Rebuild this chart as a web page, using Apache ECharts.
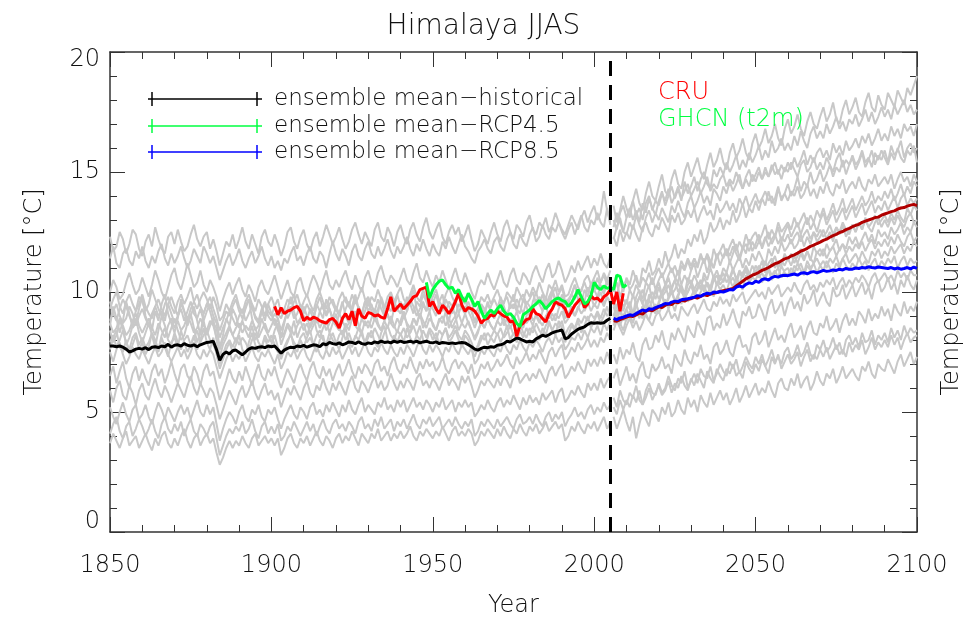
<!DOCTYPE html>
<html><head><meta charset="utf-8">
<script src="https://cdn.jsdelivr.net/npm/echarts@6/dist/echarts.min.js"></script>
<style>html,body{margin:0;padding:0;background:#fff}#c{width:967px;height:620px}</style>
</head><body><div id="c"></div><script>
// ---------- data ----------
const histStart = 1850, projStart = 2006, cruStart = 1901, ghcnStart = 1948;
const xTicks = [1850, 1900, 1950, 2000, 2050, 2100];
const yTicks = [0, 5, 10, 15, 20];
const splitYear = 2005;

const meanHist = [
7.75,7.75,7.72,7.75,7.7,7.62,7.5,7.55,7.62,7.65,
7.62,7.68,7.6,7.7,7.72,7.68,7.75,7.72,7.82,7.7,
7.78,7.8,7.75,7.85,7.78,7.75,7.8,7.72,7.8,7.85,
7.9,7.92,7.95,7.6,7.15,7.4,7.5,7.42,7.55,7.58,
7.48,7.38,7.5,7.62,7.68,7.65,7.7,7.72,7.68,7.75,
7.72,7.75,7.6,7.45,7.58,7.65,7.7,7.68,7.75,7.72,
7.78,7.7,7.75,7.8,7.78,7.72,7.85,7.8,7.9,7.85,
7.82,7.88,7.8,7.85,7.92,7.9,7.85,7.93,7.85,7.82,
7.88,7.85,7.92,7.88,7.95,7.9,7.92,7.88,7.95,7.9,
7.95,7.9,7.92,7.95,7.9,7.95,7.88,7.92,7.95,7.9,
7.88,7.92,7.85,7.9,7.88,7.85,7.88,7.85,7.88,7.9,
7.88,7.8,7.72,7.62,7.58,7.65,7.7,7.68,7.72,7.7,
7.78,7.8,7.85,7.95,7.92,8.0,8.08,8.05,7.98,7.92,
7.95,7.92,8.05,8.12,8.2,8.15,8.22,8.3,8.35,8.38,
8.42,8.05,8.1,8.25,8.35,8.45,8.5,8.55,8.65,8.72,
8.7,8.72,8.7,8.72,8.82,8.9];

const cru = [
9.4,9.05,9.35,9.1,9.2,9.25,9.35,9.4,9.2,
8.8,8.95,8.85,8.95,8.9,8.8,8.75,8.7,8.85,8.9,
8.75,8.5,8.9,9.1,8.85,9.2,8.6,9.3,9.0,8.9,
9.15,9.1,9.0,9.05,8.95,8.9,9.3,9.8,9.2,9.35,
9.5,9.3,9.45,9.6,9.8,9.85,10.1,10.15,10.2,9.4,
9.6,9.3,9.1,9.45,9.3,9.1,9.3,9.6,9.95,9.45,
9.2,9.35,9.3,9.2,9.0,8.7,8.85,8.9,9.05,9.0,
9.2,9.1,9.0,8.95,8.75,8.8,8.15,8.6,8.7,8.85,
8.9,9.3,9.1,9.05,8.9,8.75,9.1,9.3,9.6,9.5,
9.45,9.3,8.95,9.2,9.45,9.6,9.75,9.35,9.5,9.85,
9.7,9.75,9.6,9.8,9.9,10.1,9.5,10.0,9.2,9.95];

const ghcn = [
10.4,9.75,
10.1,10.3,10.45,10.5,10.3,10.15,10.2,9.95,10.1,9.8,
9.6,9.95,9.7,9.4,9.6,9.2,8.9,9.1,9.25,9.1,
9.3,9.45,9.2,9.05,9.1,8.95,8.7,8.55,9.05,9.15,
9.25,9.4,9.5,9.65,9.5,9.3,9.45,9.6,9.7,9.75,
9.65,9.6,9.4,9.55,9.8,10.1,9.8,9.5,9.6,9.85,
10.4,10.2,10.1,10.25,10.15,10.2,10.1,10.7,10.65,10.2,
10.3];

const meanProjBlue = [
8.9,8.85,8.92,8.95,
9.0,9.05,9.02,9.1,9.18,9.25,9.2,9.3,9.28,9.35,
9.4,9.45,9.52,9.5,9.58,9.62,9.6,9.68,9.7,9.72,
9.75,9.78,9.85,9.82,9.9,9.95,9.92,10.0,9.98,10.02,
10.0,10.05,10.1,10.08,10.2,10.25,10.2,10.32,10.38,10.35,
10.45,10.4,10.52,10.55,10.5,10.6,10.65,10.62,10.68,10.7,
10.68,10.72,10.75,10.7,10.78,10.8,10.76,10.82,10.85,10.8,
10.85,10.9,10.86,10.88,10.92,10.9,10.95,10.92,10.98,10.95,
10.95,11.0,10.98,11.02,11.0,11.05,11.02,11.0,11.04,11.02,
11.0,10.98,11.02,10.96,11.0,10.95,10.98,11.02,10.96,11.04,
10.98];

const meanProjDarkRed = [
8.8,8.78,8.85,8.9,
8.95,9.0,8.98,9.05,9.12,9.08,9.2,9.25,9.22,9.3,
9.38,9.35,9.45,9.5,9.48,9.58,9.55,9.65,9.62,9.7,
9.72,9.78,9.75,9.82,9.88,9.85,9.92,9.95,9.98,10.02,
10.05,10.08,10.12,10.15,10.25,10.35,10.45,10.55,10.62,10.7,
10.75,10.82,10.9,10.95,11.02,11.1,11.18,11.22,11.3,11.38,
11.42,11.5,11.55,11.62,11.7,11.75,11.82,11.9,11.95,12.02,
12.08,12.15,12.2,12.28,12.35,12.4,12.48,12.52,12.6,12.65,
12.72,12.78,12.82,12.9,12.95,13.0,13.05,13.1,13.12,13.2,
13.25,13.3,13.35,13.38,13.45,13.5,13.52,13.58,13.62,13.65,
13.6];

// historical ensemble members (1850-2005)
const hist01 = [
12.3,11.7,11.9,12.5,12.2,11.6,12.0,12.6,12.4,11.8,
11.5,12.1,12.4,11.9,12.7,12.2,11.8,11.6,12.3,12.5,
12.0,12.6,12.1,11.7,11.9,12.4,12.8,12.2,11.9,12.3,
12.5,11.8,12.2,11.7,11.1,11.6,12.1,11.9,12.4,11.8,
12.2,12.7,12.1,11.8,12.4,12.0,11.6,12.3,12.6,12.1,
11.9,12.4,12.0,11.5,11.9,12.5,12.7,12.1,11.8,12.3,
12.6,12.0,11.7,12.2,12.5,11.9,12.3,12.8,12.4,12.0,
12.3,12.7,12.2,11.8,12.1,12.6,12.9,12.4,12.0,12.5,
12.2,11.9,12.6,12.9,12.3,12.1,12.7,12.4,11.9,12.5,
12.8,12.3,12.0,12.6,12.9,12.4,12.1,12.7,13.1,12.5,
12.2,12.6,12.9,12.3,12.0,12.5,12.8,12.4,12.7,12.1,
12.4,12.8,12.2,11.7,12.0,12.6,12.3,12.0,12.5,12.9,
12.4,12.1,12.7,13.0,12.5,12.2,12.8,12.6,12.3,12.9,
13.2,12.6,12.4,12.9,12.7,13.1,12.5,12.8,13.3,12.9,
12.6,12.4,12.8,13.2,12.9,12.6,13.1,13.4,12.9,13.3,
13.6,13.0,13.3,14.2,13.4,12.9];
const hist02 = [
11.4,11.9,11.2,11.0,11.6,11.8,11.3,11.1,11.7,11.4,
11.9,11.3,11.0,11.5,11.2,11.7,12.0,11.4,11.1,11.6,
11.2,11.5,11.9,11.4,11.0,11.3,11.8,11.5,11.2,11.9,
11.6,11.2,11.5,11.0,10.5,10.9,11.3,11.6,11.1,11.4,
11.8,11.3,11.0,11.4,11.7,11.2,11.5,11.9,11.4,11.1,
11.5,11.0,11.3,10.9,11.4,11.2,11.6,11.9,11.3,11.5,
11.1,11.6,11.9,11.4,11.2,11.7,11.5,11.0,11.6,12.1,
11.6,11.3,11.8,11.5,11.1,11.7,12.0,11.5,11.3,11.8,
12.1,11.6,11.4,11.9,11.5,11.8,12.2,11.7,11.4,11.9,
11.6,11.9,12.3,11.8,11.5,12.0,11.7,12.2,11.8,11.5,
12.0,11.7,11.5,12.1,11.8,12.3,11.9,11.6,12.0,12.4,
11.9,11.7,11.4,11.2,11.7,11.9,12.2,11.8,11.6,12.1,
12.3,11.9,11.7,12.2,12.5,12.0,11.8,12.4,12.1,11.9,
12.4,12.7,12.1,12.3,12.8,12.4,12.2,12.7,12.5,12.9,
12.5,12.2,12.6,12.9,12.4,12.8,13.2,12.7,12.5,13.0,
12.8,13.3,12.9,12.7,13.5,12.8];
const hist03 = [
10.0,10.5,10.2,9.7,9.9,10.4,10.8,10.3,9.9,10.1,
10.6,10.2,9.8,10.3,10.9,10.5,10.0,9.7,10.2,10.7,
11.0,10.4,10.1,10.6,11.2,10.7,10.2,10.4,10.9,10.3,
10.0,10.5,10.2,9.8,9.2,9.7,10.1,10.4,9.9,10.3,
10.6,10.1,9.8,10.3,10.0,9.6,10.2,10.5,10.1,9.9,
10.3,10.7,10.2,9.7,10.1,10.5,10.0,9.8,10.4,10.6,
10.1,9.8,10.3,10.7,10.4,10.0,10.5,10.9,10.3,10.1,
10.5,10.2,10.6,10.9,10.4,10.1,10.7,10.3,10.0,10.6,
10.9,10.4,10.2,10.8,11.1,10.6,10.3,10.7,10.5,10.2,
10.6,11.0,10.5,10.3,10.8,11.2,10.6,10.4,10.9,10.5,
10.2,10.7,10.4,10.9,10.5,10.1,10.6,11.0,10.5,10.3,
10.8,10.4,10.0,9.7,10.2,10.5,10.3,10.8,10.4,10.1,
10.5,10.9,10.4,10.2,10.7,11.0,10.5,10.3,10.8,10.6,
10.3,10.8,11.1,10.7,10.4,10.9,11.2,10.6,10.8,11.3,
10.9,10.4,10.7,11.1,10.8,11.3,10.9,11.2,11.5,11.0,
11.4,11.1,11.6,11.2,11.0,11.5];
const hist04 = [
9.3,9.7,10.0,9.4,9.1,9.6,9.9,9.5,9.2,9.8,
9.6,9.2,9.5,10.1,9.7,9.3,9.0,9.5,9.8,9.4,
9.1,9.6,9.9,9.5,9.8,10.2,9.6,9.3,9.7,10.0,
9.7,9.3,9.8,9.4,8.8,9.0,9.5,9.2,9.6,9.9,
9.4,9.1,9.6,9.9,9.5,9.2,9.7,9.4,9.0,9.5,
9.8,9.4,9.1,8.9,9.3,9.7,9.5,9.9,9.4,9.2,
9.6,9.9,9.5,9.2,9.7,10.0,9.6,9.3,9.8,9.5,
9.2,9.7,10.0,9.6,9.4,9.9,9.5,9.8,10.2,9.7,
9.4,9.8,9.6,10.1,9.7,9.3,9.8,10.0,9.6,9.9,
10.2,9.7,9.5,9.9,10.3,9.8,9.6,10.1,9.7,9.4,
9.8,10.1,9.6,9.4,9.9,10.2,9.8,9.5,10.0,9.7,
9.5,9.9,9.6,9.1,9.3,9.8,9.6,9.9,9.5,9.8,
10.1,9.7,9.5,10.0,9.8,9.6,10.2,9.9,9.6,10.1,
9.8,10.2,9.9,10.4,10.0,9.7,10.3,10.1,10.5,10.0,
10.3,9.8,9.9,10.3,10.6,10.2,10.0,10.5,10.7,10.3,
10.6,10.9,10.4,10.8,10.5,10.9];
const hist05 = [
8.8,9.2,9.5,9.0,8.7,8.9,9.4,9.1,8.6,9.0,
9.3,8.9,8.6,9.1,9.4,9.0,9.2,8.8,9.5,9.1,
8.7,9.0,9.3,8.8,9.2,9.6,9.1,8.9,9.3,8.8,
9.2,9.5,9.0,8.7,8.1,8.5,8.8,9.2,8.9,8.6,
9.0,9.3,8.8,9.1,9.4,8.9,8.7,9.2,9.5,9.0,
8.8,9.1,8.9,8.4,8.8,9.2,9.4,8.9,9.1,9.5,
9.0,8.8,9.3,9.1,8.7,9.2,9.5,9.0,9.3,8.9,
9.4,9.1,8.8,9.3,9.6,9.2,9.0,9.4,9.1,9.6,
9.2,9.5,9.0,9.3,9.7,9.1,9.4,9.2,9.6,9.3,
9.1,9.5,9.2,9.7,9.4,9.0,9.3,9.6,9.2,9.5,
9.7,9.3,9.1,9.5,9.2,9.6,9.4,9.0,9.5,9.3,
9.1,9.4,9.2,8.7,9.0,9.3,9.1,9.5,9.2,8.9,
9.3,9.6,9.2,9.0,9.5,9.3,9.7,9.4,9.1,9.6,
9.4,9.2,9.7,9.5,9.9,9.4,9.6,10.0,9.6,9.4,
9.9,9.5,9.6,9.9,9.7,10.1,9.8,9.6,10.2,9.9,
10.1,9.8,10.3,10.0,10.4,10.2];
const hist06 = [
8.7,8.3,8.5,8.9,8.6,8.2,8.4,8.8,9.1,8.6,
8.3,8.6,8.9,8.5,8.2,8.7,8.4,8.1,8.6,8.9,
8.5,8.8,8.4,8.6,9.0,8.7,8.3,8.5,8.9,8.6,
8.4,8.8,8.6,8.1,7.6,8.0,8.3,8.6,8.2,8.5,
8.7,8.3,8.6,8.4,8.8,8.5,8.1,8.4,8.7,8.3,
8.6,8.9,8.4,8.1,8.3,8.7,8.5,8.2,8.6,8.8,
8.4,8.7,8.3,8.6,8.9,8.5,8.8,8.4,8.7,9.0,
8.6,8.4,8.8,8.5,8.7,9.1,8.6,8.4,8.9,8.6,
8.8,8.5,8.9,8.6,8.4,8.8,9.1,8.7,8.5,8.9,
8.6,9.0,8.7,8.5,8.9,8.6,9.1,8.8,8.5,8.9,
8.7,8.4,8.8,9.0,8.6,8.9,8.5,8.8,9.1,8.7,
8.5,8.8,8.4,8.1,8.4,8.7,8.5,8.9,8.6,8.4,
8.8,8.6,8.9,8.5,8.8,9.0,8.7,8.5,8.9,8.7,
8.9,8.6,9.1,8.8,8.6,9.0,9.2,8.8,9.1,8.9,
9.2,8.7,8.9,9.2,9.0,9.4,9.1,9.3,9.6,9.2,
9.5,9.3,9.7,9.4,9.8,9.5];
const hist07 = [
7.9,8.2,7.7,8.0,8.4,7.9,7.6,8.1,8.3,7.8,
8.1,7.7,7.9,8.3,8.0,7.6,8.2,8.5,8.0,7.8,
8.3,7.9,7.6,8.0,8.2,7.8,8.1,8.4,7.9,8.2,
8.4,8.0,7.8,7.5,7.0,7.4,7.8,8.0,7.7,8.1,
7.8,8.1,7.9,7.6,8.0,8.3,7.9,7.7,8.2,7.9,
8.2,7.8,7.5,7.3,7.7,8.0,8.2,7.9,7.7,8.1,
8.3,7.9,8.1,7.8,8.2,8.4,8.0,7.8,8.3,8.0,
7.8,8.2,8.4,8.0,8.3,7.9,8.1,8.5,8.2,7.9,
8.3,8.1,8.5,8.2,7.9,8.3,8.6,8.2,8.0,8.4,
8.2,8.5,8.1,8.3,8.6,8.2,8.0,8.4,8.1,8.5,
8.3,8.0,8.4,8.2,8.5,8.1,8.3,8.6,8.2,8.0,
8.4,8.2,7.9,7.5,7.8,8.2,8.0,8.3,8.1,8.4,
8.2,8.5,8.1,8.3,8.6,8.2,8.4,8.7,8.3,8.1,
8.5,8.3,8.7,8.4,8.2,8.6,8.8,8.4,8.7,8.5,
8.8,8.2,8.5,8.7,8.5,8.9,8.7,9.0,8.8,9.1,
8.9,9.2,8.9,9.3,9.0,9.2];
const hist08 = [
7.5,7.1,7.6,7.9,7.4,7.0,7.3,7.7,7.4,7.2,
7.6,7.3,7.0,7.4,7.7,7.3,7.5,7.9,7.4,7.1,
7.4,7.7,7.3,7.6,7.2,7.5,7.9,7.4,7.2,7.6,
7.3,7.6,7.4,6.9,6.4,6.8,7.2,7.5,7.1,7.4,
7.2,7.5,7.1,7.4,7.7,7.3,7.1,7.5,7.3,7.6,
7.3,7.0,7.4,6.8,7.1,7.5,7.3,7.6,7.2,7.5,
7.7,7.3,7.1,7.5,7.8,7.4,7.2,7.6,7.3,7.7,
7.4,7.6,7.2,7.5,7.8,7.4,7.7,7.3,7.6,7.9,
7.5,7.3,7.7,7.5,7.9,7.6,7.4,7.8,7.5,7.3,
7.7,7.4,7.8,7.6,7.3,7.7,8.0,7.6,7.4,7.8,
7.5,7.8,7.6,7.3,7.7,7.5,7.9,7.6,7.4,7.8,
7.6,7.4,7.7,7.0,7.2,7.6,7.4,7.7,7.5,7.3,
7.7,7.5,7.9,7.6,7.4,7.8,7.6,8.0,7.7,7.5,
7.9,7.7,8.0,7.8,7.5,7.9,8.1,7.8,8.2,7.9,
8.1,7.6,7.8,8.1,8.0,8.3,8.0,8.4,8.1,8.5,
8.3,8.6,8.2,8.7,8.4,8.8];
const hist09 = [
6.5,6.9,6.2,6.7,7.1,6.4,6.0,6.6,6.9,6.3,
6.8,6.4,6.1,6.7,7.0,6.5,6.8,6.2,6.6,7.1,
6.6,6.2,6.8,7.0,6.5,6.3,6.9,6.6,6.1,6.7,
7.0,6.5,6.7,6.1,5.5,5.9,6.3,6.8,6.4,6.2,
6.7,6.3,6.9,6.5,6.1,6.6,7.0,6.5,6.3,6.8,
6.5,6.9,6.4,6.0,6.4,6.8,6.5,6.2,6.7,7.0,
6.6,6.3,6.8,7.1,6.6,6.4,6.9,6.5,6.8,6.3,
6.7,7.0,6.5,6.8,7.2,6.7,6.4,6.9,6.6,7.0,
6.8,6.5,7.0,7.2,6.7,6.9,6.5,7.0,7.3,6.8,
6.6,7.0,6.8,7.3,6.9,6.6,7.1,6.8,7.2,6.9,
7.1,6.7,6.9,7.3,6.8,6.6,7.0,7.2,6.8,7.1,
6.9,6.6,7.0,6.4,6.6,7.0,6.8,7.1,6.7,6.9,
7.2,6.9,7.1,7.4,7.0,6.8,7.3,7.0,7.2,7.5,
7.1,7.4,7.2,7.6,7.3,7.0,7.5,7.7,7.3,7.6,
7.8,7.2,7.4,7.7,7.5,7.9,7.6,7.8,8.1,7.7,
8.0,7.7,8.1,7.9,8.3,8.0];
const hist10 = [
5.9,5.4,6.0,6.3,5.7,5.5,6.1,5.8,5.3,5.9,
6.2,5.7,5.5,6.0,6.4,5.9,5.6,6.1,5.8,5.4,
5.8,6.2,5.9,5.6,6.1,6.5,6.0,5.7,6.2,5.9,
5.6,6.0,5.8,5.3,4.7,5.1,5.5,5.9,5.6,5.3,
5.8,6.1,5.6,5.9,6.3,5.8,5.5,5.9,6.2,5.7,
5.9,5.5,5.8,5.2,5.6,6.0,5.7,6.1,5.8,5.5,
6.0,6.3,5.8,5.6,6.1,5.9,6.4,6.0,5.7,6.2,
5.9,6.3,6.0,5.7,6.2,6.5,6.0,5.8,6.3,6.1,
5.8,6.2,6.5,6.0,6.3,5.9,6.1,6.6,6.2,5.9,
6.3,6.0,6.4,6.2,5.9,6.4,6.6,6.1,6.3,6.0,
6.4,6.2,5.9,6.3,6.6,6.1,6.4,6.2,5.9,6.5,
6.2,6.5,6.1,5.6,5.9,6.3,6.1,6.4,6.2,6.0,
6.4,6.1,6.5,6.3,6.0,6.5,6.7,6.2,6.4,6.6,
6.3,6.6,6.4,6.8,6.5,6.2,6.7,6.9,6.5,6.8,
7.0,6.4,6.6,6.9,6.7,7.1,6.8,6.6,7.2,6.9,
7.2,6.9,7.3,7.0,7.5,7.1];
const hist11 = [
5.2,4.8,4.5,5.0,5.4,4.9,4.6,5.1,5.3,4.7,
4.9,5.3,4.8,4.5,5.0,5.4,5.1,4.7,5.2,4.9,
4.6,5.0,5.3,4.9,5.2,4.7,5.1,5.5,5.0,4.8,
5.3,4.9,5.2,4.5,3.8,4.3,4.7,5.0,4.8,4.5,
5.0,5.3,4.8,4.6,5.1,4.9,5.3,4.8,4.6,5.1,
4.9,5.2,4.7,4.3,4.7,5.0,5.3,4.9,4.7,5.2,
5.0,4.7,5.2,5.4,4.9,5.1,4.8,5.3,5.0,5.4,
5.1,4.8,5.3,5.0,5.5,5.1,4.9,5.3,5.6,5.0,
5.3,5.1,4.9,5.4,5.2,5.6,5.1,5.3,5.0,5.5,
5.2,5.5,5.0,5.3,5.6,5.2,5.4,5.1,5.5,5.3,
5.0,5.4,5.2,5.6,5.1,5.3,5.5,5.0,5.4,5.2,
5.5,5.2,5.4,4.8,5.0,5.3,5.1,5.5,5.2,5.0,
5.4,5.6,5.2,5.5,5.3,5.7,5.4,5.1,5.6,5.3,
5.7,5.4,5.6,5.3,5.8,5.5,5.7,5.9,5.4,5.8,
6.0,5.4,5.6,5.9,5.7,6.1,5.8,5.6,6.2,5.9,
6.2,5.9,6.4,6.0,6.3,6.5];
const hist12 = [
4.1,4.5,4.8,4.2,3.9,4.4,4.6,4.0,4.3,4.7,
4.4,4.0,4.3,4.7,4.2,3.9,4.5,4.8,4.3,4.1,
4.5,4.2,4.6,4.0,4.4,4.7,4.2,4.0,4.5,4.3,
4.0,4.4,4.6,3.9,3.2,3.6,4.0,4.3,4.1,4.4,
4.2,4.6,4.1,4.3,4.7,4.2,3.9,4.4,4.6,4.1,
4.4,4.1,4.5,3.8,4.0,4.4,4.2,4.6,4.3,4.0,
4.3,4.6,4.2,4.5,4.0,4.4,4.7,4.3,4.1,4.5,
4.7,4.3,4.5,4.2,4.6,4.4,4.1,4.6,4.8,4.3,
4.5,4.2,4.7,4.4,4.8,4.3,4.5,4.7,4.2,4.6,
4.4,4.7,4.3,4.6,4.9,4.5,4.3,4.7,4.5,4.8,
4.4,4.6,4.8,4.3,4.5,4.7,4.4,4.8,4.5,4.3,
4.6,4.4,4.7,4.0,4.2,4.6,4.4,4.7,4.5,4.3,
4.7,4.4,4.6,4.8,4.5,4.3,4.7,4.9,4.5,4.6,
4.8,4.5,4.9,4.6,4.4,4.8,5.0,4.6,4.9,4.7,
5.0,4.4,4.7,4.9,5.2,4.8,5.0,4.7,5.1,5.3,
4.9,5.2,5.0,5.4,5.1,5.3];
const hist13 = [
3.7,4.1,3.8,3.5,3.9,4.2,3.6,3.8,4.0,3.5,
3.8,4.1,3.7,3.4,3.9,3.6,4.0,4.2,3.7,3.5,
3.9,3.6,4.0,4.3,3.8,3.5,3.9,4.1,3.6,3.9,
4.1,3.7,3.9,3.3,2.8,3.1,3.5,3.8,3.5,3.8,
3.6,4.0,3.7,3.5,3.9,4.1,3.6,3.8,4.0,3.7,
3.9,3.6,3.9,3.2,3.5,3.9,4.1,3.7,3.5,3.9,
3.7,4.0,3.6,3.9,4.2,3.8,3.6,4.0,3.8,3.5,
3.9,4.1,3.7,4.0,3.8,4.2,3.9,3.6,4.1,3.9,
3.7,4.1,3.9,4.3,3.8,4.0,4.2,3.8,4.1,3.9,
4.2,3.9,4.1,4.4,4.0,3.8,4.2,4.0,4.3,4.1,
3.9,4.2,4.0,4.4,4.1,3.8,4.2,4.4,4.0,4.2,
4.0,4.3,4.1,3.6,3.8,4.2,4.0,4.3,4.1,3.9,
4.3,4.0,4.4,4.1,3.9,4.3,4.1,4.5,4.2,4.0,
4.4,4.2,4.5,4.1,4.3,4.6,4.2,4.4,4.6,4.3,
4.5,3.8,4.0,4.4,4.2,4.6,4.3,4.1,4.5,4.3,
4.6,4.2,4.5,4.8,4.3,4.6];
const hist14 = [
9.6,9.1,8.8,9.3,9.7,9.4,9.0,8.7,9.2,9.5,
9.9,9.4,9.1,8.9,9.4,9.7,9.3,9.0,9.5,9.8,
9.4,9.0,9.5,9.2,8.8,9.3,9.6,9.9,9.4,9.1,
9.5,9.8,9.3,8.9,8.4,8.8,9.2,9.0,9.4,9.7,
9.2,8.9,9.3,9.7,9.4,9.0,8.8,9.3,9.6,9.2,
9.0,9.4,9.7,9.1,9.3,8.9,9.2,9.6,9.9,9.4,
9.1,9.5,9.2,8.9,9.4,9.8,9.3,9.1,9.5,9.7,
9.3,9.0,9.5,9.8,9.4,9.2,9.7,9.3,9.0,9.6,
9.8,9.4,9.2,9.7,9.3,9.0,9.5,9.9,9.4,9.2,
9.6,9.3,9.8,9.5,9.1,9.6,9.4,9.9,9.6,9.2,
9.5,9.9,9.4,9.2,9.7,9.4,9.1,9.6,9.9,9.5,
9.3,9.6,9.2,8.8,9.1,9.5,9.3,9.0,9.4,9.7,
9.4,9.1,9.6,9.8,9.3,9.5,9.2,9.7,9.9,9.5,
9.7,10.0,9.5,9.8,9.6,9.3,9.8,10.1,9.7,9.9,
10.2,9.6,9.7,9.9,10.3,9.9,10.1,10.4,10.0,10.3,
10.5,10.1,10.4,10.7,10.3,10.6];
const hist15 = [
8.6,9.4,8.9,8.3,8.8,9.6,9.1,8.5,8.7,9.3,
9.8,9.0,8.6,8.4,9.2,8.8,9.5,9.9,9.1,8.7,
8.3,8.9,9.7,9.2,8.6,9.0,9.4,8.8,8.2,9.1,
9.5,9.2,8.7,8.5,7.7,8.2,8.9,8.6,9.3,9.0,
8.5,8.8,9.4,9.7,8.9,8.4,8.6,9.2,8.8,9.5,
9.1,8.6,8.9,8.1,8.7,9.3,9.8,9.2,8.7,8.9,
9.4,9.0,8.5,8.8,9.5,9.2,8.9,9.7,9.3,8.8,
8.6,9.1,9.6,9.0,8.7,9.4,9.9,9.3,8.9,9.2,
9.7,9.2,8.8,9.1,9.8,9.4,9.0,8.7,9.3,9.9,
9.4,8.9,9.2,9.7,10.1,9.3,8.9,9.5,9.2,9.8,
9.3,9.0,9.6,9.9,9.2,8.8,9.4,9.7,9.1,9.5,
9.8,9.2,8.9,8.5,8.9,9.4,9.1,9.6,9.2,8.9,
9.3,9.8,9.4,9.0,9.5,9.9,9.3,9.1,9.7,9.4,
9.0,9.6,10.0,9.5,9.2,9.8,9.4,9.9,10.2,9.6,
9.8,9.3,9.5,9.9,10.3,9.7,9.5,10.1,9.8,10.4,
10.0,10.6,10.2,9.9,10.5,10.3];
const hist16 = [
8.4,7.9,8.2,8.8,8.5,7.8,8.1,8.6,8.9,8.3,
7.9,8.3,8.7,8.2,7.7,8.4,9.0,8.6,8.1,8.5,
8.9,8.4,8.0,8.2,8.7,9.1,8.5,7.9,8.3,8.8,
8.2,8.6,8.9,8.0,7.3,7.8,8.1,8.5,8.2,7.9,
8.3,8.8,8.4,8.1,8.6,8.0,8.3,8.9,8.5,8.2,
7.9,8.4,8.7,7.8,8.2,8.6,8.3,8.8,8.1,8.5,
8.7,8.2,8.6,9.0,8.4,8.1,8.5,8.8,8.3,8.7,
9.1,8.5,8.2,8.7,8.4,8.9,9.2,8.6,8.3,8.8,
8.5,8.9,9.3,8.7,8.4,8.8,8.5,9.0,8.6,8.3,
8.8,9.2,8.6,8.3,8.9,8.7,9.1,8.5,8.8,9.2,
8.6,8.4,8.9,8.7,9.2,8.5,8.8,9.0,8.4,8.7,
9.1,8.7,8.4,8.0,8.3,8.8,8.5,8.9,8.6,8.4,
8.8,9.1,8.6,8.9,8.5,8.8,9.2,8.7,8.5,9.0,
9.3,8.8,9.0,8.7,9.2,9.5,8.9,9.1,8.8,9.3,
9.6,8.9,9.1,9.4,9.0,9.3,9.7,9.2,9.5,9.8,
9.4,9.7,10.0,9.5,9.8,9.6];
const hist17 = [
7.6,8.1,8.4,7.7,7.5,8.0,7.4,7.8,8.2,7.6,
7.9,7.4,7.7,8.3,7.8,7.5,8.1,7.7,7.3,7.9,
8.1,7.7,8.4,7.9,7.5,7.8,8.2,7.6,8.0,8.5,
7.9,7.6,8.1,7.4,6.8,7.2,7.6,7.9,7.5,7.8,
8.2,7.6,7.4,7.9,8.3,7.8,7.5,7.7,8.1,7.6,
7.8,8.2,7.7,7.2,7.6,7.9,8.3,7.7,7.5,8.0,
7.7,8.1,8.4,7.8,7.5,8.0,8.2,7.6,8.0,8.3,
7.9,7.6,8.1,8.5,7.9,7.7,8.2,8.0,8.4,7.8,
8.1,8.4,7.9,7.7,8.3,8.6,8.0,7.8,8.2,7.9,
8.3,7.9,8.5,8.1,7.8,8.2,8.6,8.0,7.9,8.4,
8.0,8.3,7.8,8.2,8.5,7.9,8.1,8.4,8.0,7.7,
8.2,8.0,7.6,7.3,7.7,8.0,8.3,7.8,8.1,7.9,
8.3,7.9,8.2,8.6,8.0,8.3,7.9,8.4,8.1,8.5,
8.2,8.6,8.3,8.0,8.5,8.2,8.7,8.4,8.2,8.8,
8.5,7.9,8.2,8.6,8.4,8.8,8.3,8.6,9.0,8.5,
8.8,9.1,8.7,9.0,9.4,8.9];

// scenario ensemble members (2006-2100)
const proj01 = [
13.6,12.9,13.4,14.0,
13.5,13.1,13.8,14.3,13.7,13.4,14.1,14.6,14.0,13.8,
14.4,14.9,14.2,14.0,14.7,15.1,14.5,14.3,15.0,15.4,
14.8,15.2,15.6,15.0,14.7,15.3,15.8,15.2,15.5,16.0,
15.4,15.1,15.8,16.2,15.6,15.9,16.4,15.8,15.5,16.2,
16.6,16.0,16.3,16.8,16.2,16.5,17.0,16.4,16.1,16.8,
17.2,16.6,16.9,17.4,16.8,16.5,17.1,17.5,17.0,16.8,
17.3,17.7,17.1,17.4,17.9,17.2,17.0,17.6,18.0,17.4,
17.7,18.1,17.5,17.3,17.9,18.3,17.7,17.5,18.2,17.8,
17.6,18.3,18.0,17.7,18.4,18.1,17.8,18.5,18.2,18.6,
19.0];
const proj02 = [
12.7,13.3,12.9,12.5,
13.1,13.5,13.0,13.4,12.9,13.7,13.3,13.9,13.5,13.2,
13.8,14.2,13.6,14.0,14.4,13.9,14.3,13.8,14.6,14.1,
14.4,14.8,14.2,14.7,15.0,14.5,14.3,15.1,14.8,15.2,
14.9,15.4,15.0,15.3,15.7,15.1,15.5,15.2,15.8,15.4,
15.7,16.1,15.5,15.9,15.6,16.3,15.8,16.0,16.4,15.9,
16.2,15.9,16.5,16.1,16.7,16.3,16.0,16.6,16.9,16.4,
16.7,16.4,17.0,16.6,16.9,17.3,16.8,17.1,16.7,17.2,
17.0,17.4,16.9,17.2,17.6,17.1,17.5,17.0,17.3,17.7,
17.3,17.6,17.2,17.8,17.4,17.7,18.0,17.5,17.8,17.4,
17.6];
const proj03 = [
12.2,12.7,13.1,12.5,
12.4,12.9,12.6,13.2,12.8,12.5,13.1,13.4,12.9,13.3,
13.0,13.5,13.2,12.9,13.6,13.3,13.8,13.4,13.1,13.7,
14.0,13.5,13.8,14.2,13.7,14.0,13.6,14.3,14.1,13.8,
14.4,14.1,14.6,14.2,14.5,14.9,14.3,14.7,14.4,14.9,
14.6,15.0,14.7,15.2,14.8,15.1,15.4,14.9,15.3,15.0,
15.4,15.1,15.6,15.2,15.5,15.9,15.3,15.7,15.4,15.8,
16.0,15.6,15.9,15.5,16.2,15.8,16.1,15.7,16.3,15.9,
16.1,16.4,16.0,16.5,16.2,16.6,16.1,16.4,16.8,16.3,
16.6,16.3,16.9,16.5,16.8,16.4,17.0,16.7,16.9,16.5,
17.0];
const proj04 = [
13.0,12.6,13.3,13.6,
13.1,13.4,13.8,13.2,13.5,13.0,13.7,14.0,13.4,13.8,
13.6,14.1,13.8,14.3,13.7,14.0,14.4,13.9,14.2,14.5,
14.0,14.3,14.6,14.1,14.4,14.8,14.2,14.5,14.3,14.7,
14.9,14.4,14.7,14.5,15.0,14.6,14.3,14.8,15.1,14.6,
14.9,15.2,14.7,15.0,14.8,15.3,14.9,15.1,14.7,15.2,
15.0,15.4,15.1,14.8,15.3,15.5,15.0,15.2,15.6,15.1,
15.4,15.1,15.6,15.3,15.0,15.5,15.8,15.2,15.5,15.3,
15.7,15.3,15.5,15.9,15.4,15.6,15.2,15.8,15.5,15.9,
15.6,15.3,15.8,15.5,16.0,15.6,15.4,15.9,15.7,16.1,
15.4];
const proj05 = [
12.3,11.9,12.6,12.1,
12.5,12.2,12.8,12.4,12.1,12.7,12.9,12.5,12.3,12.8,
12.6,13.1,12.8,12.5,13.2,12.9,13.3,12.8,13.0,13.4,
13.1,13.5,12.9,13.3,13.6,13.2,13.4,13.0,13.7,13.3,
13.5,13.8,13.4,13.7,13.3,13.9,13.6,14.0,13.5,13.8,
14.1,13.7,13.9,14.2,13.8,14.0,13.6,14.3,13.9,14.1,
13.8,14.2,14.0,14.4,13.9,14.1,14.5,14.0,14.3,13.9,
14.4,14.1,14.6,14.2,14.0,14.5,14.3,14.7,14.1,14.4,
14.6,14.3,14.8,14.4,14.2,14.7,14.5,14.9,14.4,14.6,
14.8,14.5,14.9,14.3,14.7,15.0,14.6,14.8,14.4,14.9,
14.6];
const proj06 = [
10.2,9.8,10.5,10.0,
10.6,10.3,10.9,10.5,10.2,11.0,10.8,11.3,10.7,10.9,
11.4,11.0,11.7,11.2,11.5,12.0,11.4,11.8,11.6,12.2,
11.9,12.4,12.1,12.6,12.0,12.3,12.9,12.5,12.7,13.1,
12.6,13.0,12.8,13.4,12.9,13.2,13.7,13.1,13.5,13.3,
13.8,13.4,13.9,13.6,14.2,13.7,13.9,14.4,13.8,14.1,
14.5,14.0,14.3,14.8,14.2,14.6,14.4,15.0,14.5,14.7,
15.1,14.6,14.9,15.3,14.8,15.2,15.0,15.5,14.9,15.3,
15.6,15.1,15.4,15.8,15.2,15.5,15.9,15.3,15.7,15.5,
15.9,15.4,16.1,15.7,15.9,16.3,15.6,16.0,16.2,15.8,
16.0];
const proj07 = [
9.6,9.3,9.9,9.7,
9.5,10.1,9.8,10.3,10.0,9.7,10.4,10.2,10.6,10.1,
10.5,10.8,10.3,10.7,11.0,10.6,10.4,11.1,10.9,11.3,
10.9,11.4,11.1,11.6,11.2,11.5,11.0,11.8,11.4,11.7,
12.0,11.5,11.9,12.2,11.7,12.1,11.8,12.4,12.0,12.3,
12.5,12.1,12.4,12.8,12.2,12.6,12.3,12.9,12.5,12.7,
12.9,12.6,13.1,12.7,13.0,13.3,12.8,13.2,12.9,13.4,
13.1,13.5,13.0,13.3,13.7,13.2,13.5,13.9,13.3,13.6,
13.9,13.4,13.7,14.0,13.6,13.8,14.2,13.7,14.0,13.8,
14.2,13.9,14.3,13.8,14.1,14.5,14.0,14.4,14.1,14.6,
14.4];
const proj08 = [
9.0,9.5,9.2,8.8,
9.3,9.6,9.1,9.4,9.8,9.5,9.2,9.9,9.7,10.1,
9.7,10.0,10.3,9.8,10.2,10.5,10.0,10.3,9.9,10.6,
10.3,10.7,10.4,10.1,10.8,10.5,11.0,10.6,10.9,10.5,
11.0,10.8,11.3,10.9,11.2,11.5,11.0,11.4,11.1,11.6,
11.3,11.7,11.4,11.1,11.8,11.5,11.9,11.6,12.1,11.7,
11.9,12.2,11.8,12.0,12.4,11.9,12.3,12.0,12.5,12.1,
12.3,12.6,12.2,12.5,12.1,12.7,12.4,12.8,12.3,12.6,
12.8,12.5,12.9,12.6,13.1,12.7,12.9,13.2,12.8,13.0,
13.2,12.9,13.3,13.0,13.4,13.1,12.9,13.5,13.2,13.6,
13.4];
const proj09 = [
9.1,8.7,9.3,8.9,
8.8,9.2,9.0,9.5,9.1,8.9,9.6,9.3,9.7,9.2,
9.5,9.9,9.4,9.7,10.0,9.6,9.8,10.2,9.7,10.0,
10.3,9.9,10.1,10.5,10.0,10.4,10.2,10.7,10.3,10.5,
10.8,10.4,10.6,11.0,10.5,10.9,10.7,11.1,10.8,10.6,
11.1,10.9,11.3,10.8,11.2,11.4,11.0,11.3,11.1,11.6,
11.3,11.6,11.2,11.5,11.8,11.4,11.7,11.3,11.9,11.6,
11.8,11.5,12.0,11.7,11.9,12.2,11.7,12.0,11.8,12.3,
12.0,12.3,11.9,12.2,12.5,12.1,12.4,12.0,12.6,12.3,
12.5,12.2,12.7,12.4,12.6,12.9,12.4,12.7,12.5,12.9,
12.7];
const proj10 = [
8.6,9.0,8.7,8.4,
8.9,9.1,8.7,9.2,8.9,9.4,9.0,8.8,9.3,9.5,
9.1,9.4,9.7,9.3,9.6,9.2,9.8,9.5,9.9,9.6,
9.8,10.1,9.7,10.0,10.3,9.9,10.2,9.8,10.4,10.1,
10.3,10.0,10.5,10.2,10.6,10.3,10.1,10.7,10.4,10.6,
10.5,10.8,10.4,10.7,10.9,10.5,10.8,11.0,10.6,10.9,
11.0,10.7,11.1,10.9,11.2,10.8,11.3,11.0,11.2,11.4,
11.1,11.3,11.0,11.4,11.2,11.5,11.1,11.4,11.6,11.2,
11.4,11.6,11.3,11.7,11.4,11.2,11.7,11.5,11.8,11.4,
11.7,11.5,11.9,11.6,11.8,12.0,11.6,11.9,11.7,12.1,
11.9];
const proj11 = [
9.5,9.1,9.7,9.4,
9.6,9.3,9.9,9.5,9.8,10.1,9.6,9.7,10.0,9.7,
10.2,9.8,10.0,10.3,9.9,10.1,10.4,10.0,9.8,10.3,
10.5,10.1,10.4,10.2,10.6,10.3,10.0,10.5,10.7,10.3,
10.5,10.8,10.4,10.6,10.3,10.8,10.6,10.9,10.5,10.7,
10.9,10.6,10.8,10.5,11.0,10.7,10.9,10.6,11.1,10.8,
10.7,11.0,10.8,11.2,10.9,10.7,11.1,10.9,11.2,10.8,
11.1,10.9,11.3,11.0,10.8,11.2,11.0,11.4,11.1,10.9,
11.2,11.0,11.4,11.1,11.3,10.9,11.2,11.4,11.0,11.3,
11.1,11.4,11.2,11.5,11.0,11.3,11.5,11.1,11.4,11.2,
11.3];
const proj12 = [
8.4,8.8,8.5,8.2,
8.6,8.9,8.5,8.8,8.4,8.7,9.1,8.8,8.6,9.0,
9.2,8.8,9.0,9.3,8.9,9.1,8.8,9.4,9.2,9.0,
9.3,9.5,9.1,9.4,9.7,9.3,9.2,9.6,9.4,9.8,
9.5,9.7,9.4,9.9,9.6,9.8,10.0,9.5,9.7,9.9,
10.1,9.8,10.0,9.7,10.2,9.9,10.1,10.3,9.8,10.0,
10.2,10.0,10.4,10.1,9.9,10.3,10.5,10.1,10.3,10.0,
10.4,10.2,10.5,10.3,10.6,10.1,10.4,10.6,10.2,10.5,
10.3,10.6,10.4,10.7,10.5,10.2,10.6,10.8,10.4,10.6,
10.8,10.5,10.7,10.4,10.9,10.6,10.8,10.5,10.9,10.7,
10.7];
const proj13 = [
7.4,7.0,7.7,7.2,
7.6,7.4,7.9,7.3,7.1,7.8,8.1,7.6,7.7,8.2,
7.9,8.4,7.8,7.6,8.3,8.0,8.5,8.2,7.9,8.6,
8.3,8.1,8.8,8.5,8.2,8.9,9.0,8.4,8.7,8.5,
9.1,8.6,8.9,9.3,8.8,8.5,9.2,9.0,9.4,8.9,
9.0,9.5,9.2,8.8,9.4,9.7,9.1,9.3,9.6,9.0,
9.5,9.8,9.3,9.6,9.2,9.9,9.5,9.7,10.1,9.4,
9.7,10.0,9.6,9.4,10.2,9.8,9.9,10.3,9.7,10.0,
10.3,9.8,10.1,10.4,9.9,10.2,9.7,10.3,10.5,10.0,
10.2,10.6,10.1,10.4,9.9,10.5,10.2,10.7,10.3,10.1,
10.5];
const proj14 = [
6.4,6.8,6.1,6.5,
6.9,6.3,6.6,6.2,6.8,7.1,6.5,6.4,7.0,6.7,
6.9,7.3,6.8,7.0,6.6,7.4,7.1,6.9,7.6,7.2,
7.0,7.5,7.3,7.8,7.2,7.4,7.0,7.7,7.9,7.4,
7.6,8.0,7.5,7.3,7.9,8.2,7.7,7.8,7.4,8.1,
8.3,7.8,8.0,8.4,7.7,8.1,8.5,8.0,8.2,7.9,
8.4,8.7,8.1,8.3,8.6,8.0,8.5,8.8,8.3,8.2,
8.7,8.5,9.0,8.4,8.6,8.9,8.3,8.8,9.1,8.6,
8.9,8.6,9.2,9.0,8.7,9.3,8.8,9.1,8.9,9.4,
9.0,9.3,8.8,9.5,9.2,9.0,9.6,9.1,9.4,9.2,
9.6];
const proj15 = [
5.6,5.2,5.9,5.5,
5.3,5.8,5.6,6.1,5.5,5.3,5.9,6.2,5.8,5.7,
6.2,5.8,6.0,6.5,6.1,5.9,6.4,6.2,6.7,6.0,
6.3,6.6,6.2,6.8,6.5,6.4,6.9,6.3,6.6,7.0,
6.7,6.5,7.1,6.8,7.2,6.6,6.9,7.3,7.0,6.8,
7.3,7.0,7.4,6.9,7.2,7.6,7.1,7.3,7.0,7.5,
7.7,7.2,7.4,7.8,7.3,7.5,7.9,7.4,7.2,7.8,
7.6,8.0,7.5,7.7,8.1,7.6,7.9,7.4,8.0,8.2,
7.8,8.1,7.7,8.3,7.9,8.0,8.4,7.8,8.2,8.0,
8.3,7.9,8.5,8.1,8.4,8.0,8.6,8.2,8.5,8.3,
8.4];
const proj16 = [
4.8,4.3,4.7,5.1,
4.6,4.2,4.8,3.9,4.5,5.0,4.7,4.4,5.1,4.9,
4.6,5.2,4.9,5.4,4.8,5.0,5.5,5.1,4.9,5.6,
5.2,5.5,5.0,5.7,5.4,5.2,5.8,5.3,5.6,5.9,
5.5,5.8,5.3,5.6,6.0,5.4,5.7,6.1,5.6,5.9,
6.2,5.7,6.0,5.8,6.3,5.9,5.6,6.2,6.4,6.0,
5.9,6.4,6.1,6.6,6.0,6.3,6.5,5.9,6.2,6.7,
6.3,6.1,6.6,6.4,6.8,6.2,6.5,6.9,6.4,6.6,
6.8,6.5,6.3,6.9,6.7,7.1,6.6,6.4,7.0,6.8,
6.7,7.2,6.9,6.6,7.1,7.4,6.9,7.2,7.5,7.0,
7.3];
const proj17 = [
5.2,4.9,5.5,5.1,
5.5,5.2,5.7,5.4,5.9,5.3,5.6,6.0,5.5,5.8,
6.1,5.7,5.9,6.3,5.8,6.2,6.0,6.5,6.1,5.9,
6.4,6.1,6.6,6.3,6.0,6.7,6.4,6.2,6.8,6.5,
6.3,6.8,6.6,7.0,6.5,6.7,6.4,7.1,6.8,6.6,
7.0,6.7,7.2,6.9,6.6,7.3,7.0,7.4,6.8,7.1,
7.4,7.0,7.2,7.5,6.9,7.3,7.6,7.1,7.4,7.2,
7.6,7.3,7.7,7.2,7.5,7.8,7.4,7.6,7.3,7.9,
7.5,7.8,7.6,8.0,7.4,7.7,8.1,7.6,7.9,7.7,
8.0,7.7,8.2,7.8,8.1,7.6,8.0,8.3,7.9,8.1,
8.2];
const proj18 = [
9.4,8.9,9.6,9.2,
9.7,9.3,9.0,9.8,10.1,9.5,9.9,10.3,9.6,10.0,
10.4,9.9,10.2,10.6,10.1,10.5,10.9,10.3,10.7,10.4,
10.9,11.2,10.6,11.0,11.4,10.8,11.3,11.0,11.6,11.1,
11.5,11.8,11.2,11.6,12.0,11.4,11.9,11.6,12.2,11.7,
12.0,12.4,11.8,12.2,12.5,12.0,12.3,12.7,12.1,12.5,
12.8,12.3,12.6,12.9,12.4,12.8,13.1,12.6,12.9,12.5,
13.0,13.3,12.8,13.1,13.4,12.9,13.2,13.5,13.0,13.3,
13.6,13.1,13.4,13.7,13.2,13.5,13.8,13.3,13.6,13.4,
13.8,13.4,13.7,14.0,13.5,13.9,14.1,13.6,13.9,13.7,
13.9];
const proj19 = [
8.8,9.2,8.6,9.0,
9.3,8.9,9.1,9.5,9.0,9.4,9.2,9.7,9.3,9.1,
9.6,9.9,9.4,9.8,10.1,9.6,9.9,10.2,9.8,10.0,
10.3,9.9,10.2,10.5,10.1,10.4,10.0,10.6,10.3,10.7,
10.4,10.8,10.5,10.9,10.6,10.3,10.8,11.0,10.7,11.1,
10.8,11.1,10.9,11.3,10.9,11.2,11.5,11.0,11.3,11.1,
11.4,11.1,11.5,11.2,11.6,11.3,11.7,11.4,11.2,11.7,
11.5,11.8,11.4,11.7,11.9,11.5,11.8,12.0,11.6,11.9,
11.7,12.0,11.8,12.1,11.7,12.0,12.2,11.8,12.1,11.9,
12.2,11.9,12.3,12.0,12.4,12.1,11.9,12.3,12.5,12.1,
12.3];
const proj20 = [
10.0,10.4,9.8,10.2,
10.5,10.1,10.3,10.7,10.2,10.6,10.4,10.8,10.3,10.7,
11.0,10.6,10.9,11.2,10.8,11.1,10.7,11.3,11.0,11.4,
11.1,11.4,11.0,11.5,11.2,11.6,11.3,11.0,11.5,11.7,
11.4,11.8,11.5,11.9,11.6,11.3,11.8,12.0,11.7,12.1,
11.8,12.1,11.9,12.3,11.9,12.2,12.4,12.0,12.3,12.1,
12.4,12.0,12.3,12.5,12.1,12.4,12.6,12.2,12.5,12.3,
12.6,12.3,12.5,12.8,12.4,12.7,12.5,12.9,12.6,12.4,
12.8,12.5,12.9,12.6,13.0,12.7,12.5,12.9,13.1,12.7,
13.0,12.7,13.1,12.8,13.2,12.9,12.7,13.1,13.3,12.9,
13.0];

const histMembers = [hist01,hist02,hist03,hist04,hist05,hist06,hist07,hist08,hist09,hist10,hist11,hist12,hist13,hist14,hist15,hist16,hist17];
const projMembers = [proj01,proj02,proj03,proj04,proj05,proj06,proj07,proj08,proj09,proj10,proj11,proj12,proj13,proj14,proj15,proj16,proj17,proj18,proj19,proj20];

// ---------- chart ----------
const FONT = 'DejaVu Sans';
const TXT = '#111';
const GRAY = '#c8c8c8';
const pairs = (start, arr) => arr.map((v, i) => [start + i, v]);

const series = [];
histMembers.forEach(a => series.push({type:'line', data:pairs(histStart,a), symbol:'none', silent:true,
  lineStyle:{color:GRAY, width:2}, z:1}));
projMembers.forEach(a => series.push({type:'line', data:pairs(projStart,a), symbol:'none', silent:true,
  lineStyle:{color:GRAY, width:2}, z:1}));
series.push({type:'line', data:pairs(histStart,meanHist), symbol:'none', lineStyle:{color:'#000', width:3}, z:3});
series.push({type:'line', data:pairs(cruStart,cru), symbol:'none', lineStyle:{color:'#ff0000', width:3}, z:3});
series.push({type:'line', data:pairs(ghcnStart,ghcn), symbol:'none', lineStyle:{color:'#00ff40', width:3}, z:3});
series.push({type:'line', data:pairs(projStart,meanProjDarkRed), symbol:'none', lineStyle:{color:'#b00000', width:3}, z:3});
series.push({type:'line', data:pairs(projStart,meanProjBlue), symbol:'none', lineStyle:{color:'#0000ff', width:3}, z:3,
  markLine:{silent:true, symbol:['none','none'], label:{show:false}, animation:false,
    lineStyle:{color:'#000', type:[15,9], width:3}, data:[{xAxis:splitYear}]}});

const tickColor = '#333';
const lblStyle = {fontSize:24, color:TXT, fontFamily:FONT, fontWeight:200};
const labelFmtY = v => v === yTicks[0] ? '{lo|' + v + '}' : (v === yTicks[yTicks.length-1] ? '{hi|' + v + '}' : '{n|' + v + '}');
const tickCfg = {inside:true, length:15, lineStyle:{color:tickColor, width:1}};
const minorCfg = {show:true, splitNumber:5, length:7, lineStyle:{color:tickColor, width:1}};
const lineCfg = {show:true, onZero:false, lineStyle:{color:tickColor, width:1.5}};

const option = {
  animation:false,
  backgroundColor:'#fff',
  title:{text:'Himalaya JJAS', left:'center', top:8, textStyle:{fontSize:28, fontWeight:200, color:TXT, fontFamily:FONT}},
  grid:{left:110, right:50, top:52, bottom:88, containLabel:false, outerBoundsMode:'none'},
  xAxis:[
    {type:'value', min:xTicks[0], max:xTicks[xTicks.length-1], interval:50, position:'bottom',
     axisLine:lineCfg, axisTick:tickCfg, minorTick:minorCfg, splitLine:{show:false},
     axisLabel:{margin:22, formatter:v => String(v), ...lblStyle},
     name:'Year', nameLocation:'middle', nameGap:62, nameTextStyle:{...lblStyle}},
    {type:'value', min:xTicks[0], max:xTicks[xTicks.length-1], interval:50, position:'top',
     axisLine:lineCfg, axisTick:tickCfg, minorTick:minorCfg, splitLine:{show:false}, axisLabel:{show:false}}
  ],
  yAxis:[
    {type:'value', min:yTicks[0], max:yTicks[yTicks.length-1], interval:5, position:'left',
     axisLine:lineCfg, axisTick:{show:true, ...tickCfg}, minorTick:minorCfg, splitLine:{show:false},
     axisLabel:{margin:10, formatter:labelFmtY, ...lblStyle,
       rich:{n:{...lblStyle}, lo:{...lblStyle, padding:[0,0,20,0]}, hi:{...lblStyle, padding:[16,0,0,0]}}},
     name:'Temperature [°C]', nameLocation:'middle', nameGap:63, nameRotate:90, nameTextStyle:{...lblStyle}},
    {type:'value', min:yTicks[0], max:yTicks[yTicks.length-1], interval:5, position:'right',
     axisLine:lineCfg, axisTick:{show:true, ...tickCfg}, minorTick:minorCfg, splitLine:{show:false}, axisLabel:{show:false},
     name:'Temperature [°C]', nameLocation:'middle', nameGap:23, nameRotate:90, nameTextStyle:{...lblStyle}}
  ],
  series:series,
  graphic:[]
};

// legend key + dataset labels
const legendRows = [
  {y:99, color:'#000000', text:'ensemble mean\u2212historical'},
  {y:126, color:'#00ff40', text:'ensemble mean\u2212RCP4.5'},
  {y:152, color:'#0000ff', text:'ensemble mean\u2212RCP8.5'}
];
const legFont = '200 23px "DejaVu Sans"';
legendRows.forEach(r => {
  option.graphic.push({type:'line', shape:{x1:148, y1:r.y, x2:262, y2:r.y}, style:{stroke:r.color, lineWidth:1.5}, z:10});
  option.graphic.push({type:'line', shape:{x1:152, y1:r.y-7, x2:152, y2:r.y+7}, style:{stroke:r.color, lineWidth:1.5}, z:10});
  option.graphic.push({type:'line', shape:{x1:257, y1:r.y-7, x2:257, y2:r.y+7}, style:{stroke:r.color, lineWidth:1.5}, z:10});
  option.graphic.push({type:'text', x:274, y:r.y, style:{text:r.text, fill:TXT, font:legFont, verticalAlign:'middle'}, z:10});
});
option.graphic.push({type:'text', x:658, y:93, style:{text:'CRU', fill:'#ff0000', font:'200 24px "DejaVu Sans"', verticalAlign:'middle'}, z:10});
option.graphic.push({type:'text', x:658, y:120, style:{text:'GHCN (t2m)', fill:'#00ff40', font:'200 24px "DejaVu Sans"', verticalAlign:'middle'}, z:10});

const chart = echarts.init(document.getElementById('c'), null, {renderer:'canvas'});
chart.setOption(option);
</script></body></html>
